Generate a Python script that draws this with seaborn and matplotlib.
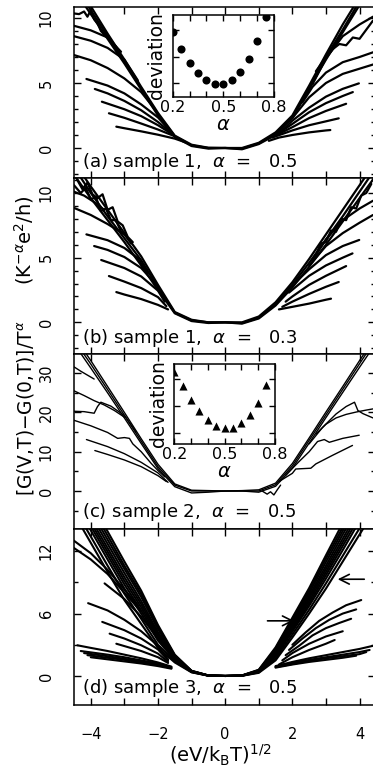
import numpy as np
import pandas as pd
import matplotlib
matplotlib.use('Agg')
import matplotlib.pyplot as plt
import seaborn as sns

sns.set_style('ticks')
plt.rcParams['font.family'] = ['DejaVu Sans']
plt.rcParams['mathtext.fontset'] = 'dejavusans'
plt.rcParams['text.color'] = 'black'
plt.rcParams['axes.labelcolor'] = 'black'
plt.rcParams['axes.edgecolor'] = 'black'
plt.rcParams['xtick.color'] = 'black'
plt.rcParams['ytick.color'] = 'black'

# ---------------- data ----------------
GRID = [-4.5, -4.0, -3.5, -3.0, -2.5, -2.0, -1.5, -1.0, -0.5, 0.0,
        0.5, 1.0, 1.5, 2.0, 2.5, 3.0, 3.5, 4.0, 4.5]

# panel (a): sample 1, alpha = 0.5
a_bundle = [
    [12.6, 10.6, 8.6, 6.6, 4.6, 2.6, 0.9, 0.2, 0.0, 0.0, -0.05, 0.35, 1.1, 2.3, 4.5, 7.0, 9.1, 11.3, 13.4],
    [12.2, 10.3, 8.4, 6.5, 4.5, 2.5, 0.85, 0.15, -0.05, 0.0, -0.1, 0.3, 1.0, 2.4, 4.6, 6.8, 8.9, 11.0, 13.0],
    [12.9, 10.9, 8.8, 6.8, 4.7, 2.7, 0.95, 0.25, 0.02, 0.0, 0.0, 0.4, 1.2, 2.5, 4.8, 7.2, 9.5, 11.6, 13.7],
]
a_branches = [
    ([-4.5, -4.35, -4.2, -4.1, -4.0, -3.9, -3.8, -3.7, -3.55, -3.4, -3.2],
     [10.35, 10.3, 10.5, 10.1, 10.6, 9.9, 9.6, 9.0, 8.6, 8.3, 7.6]),
    ([-3.24, -3.0, -2.5, -2.0, -1.5, -1.2], [1.64, 1.52, 1.28, 1.02, 0.72, 0.45]),
    ([-3.46, -3.0, -2.5, -2.0, -1.5, -1.2], [2.67, 2.32, 1.88, 1.42, 0.9, 0.45]),
    ([-3.67, -3.0, -2.5, -2.0, -1.6], [3.56, 2.98, 2.45, 1.75, 1.1]),
    ([-3.88, -3.5, -3.0, -2.5, -2.0, -1.6], [4.54, 4.2, 3.62, 2.9, 2.0, 1.15]),
    ([-4.13, -3.5, -3.0, -2.5, -2.0, -1.7], [5.31, 4.8, 4.2, 3.35, 2.35, 1.5]),
    ([-4.5, -4.0, -3.5, -3.0, -2.5, -2.1], [7.15, 6.75, 6.15, 5.35, 4.3, 3.0]),
    ([-4.5, -4.0, -3.5, -3.0, -2.6], [8.6, 8.25, 7.7, 6.8, 5.2]),
    ([-4.5, -4.0, -3.5, -3.1], [9.4, 9.05, 8.5, 7.4]),
    ([1.3, 1.6, 2.0, 2.5, 3.0, 3.13], [0.55, 0.8, 1.0, 1.2, 1.35, 1.38]),
    ([1.4, 2.0, 2.5, 3.0, 3.38], [0.8, 1.35, 1.75, 2.05, 2.28]),
    ([1.5, 2.0, 2.5, 3.0, 3.6], [0.95, 1.6, 2.3, 2.85, 3.4]),
    ([1.6, 2.0, 2.5, 3.0, 3.5, 3.8], [1.15, 1.85, 2.75, 3.45, 4.0, 4.3]),
    ([1.7, 2.0, 2.5, 3.0, 3.5, 3.98], [1.35, 2.1, 3.1, 3.95, 4.55, 4.97]),
    ([2.0, 2.5, 3.0, 3.5, 4.0, 4.5], [2.3, 3.9, 5.0, 5.7, 6.1, 6.5]),
    ([2.3, 2.6, 3.0, 3.5, 4.0, 4.5], [3.5, 4.7, 5.8, 6.6, 7.0, 7.45]),
    ([2.7, 3.0, 3.2, 3.4, 3.6, 3.8, 4.0, 4.2, 4.4], [5.9, 7.0, 7.6, 8.0, 7.9, 8.5, 8.4, 9.1, 9.8]),
    ([2.6, 3.0, 3.5, 4.0, 4.4], [4.9, 6.9, 8.6, 9.5, 10.1]),
]

# panel (b): sample 1, alpha = 0.3
b_bundle = [
    [12.0, 10.0, 8.2, 6.5, 4.8, 2.7, 0.75, 0.15, 0.0, 0.0, -0.05, 0.35, 1.4, 2.9, 4.6, 6.4, 8.2, 10.1, 12.0],
    [11.4, 9.6, 7.9, 6.2, 4.4, 2.5, 0.7, 0.1, -0.05, 0.0, -0.1, 0.3, 1.3, 2.7, 4.3, 6.0, 7.8, 9.6, 11.4],
    [12.4, 10.5, 8.7, 6.9, 5.1, 2.9, 0.8, 0.2, 0.0, 0.0, 0.0, 0.45, 1.55, 3.1, 4.9, 6.8, 8.7, 10.6, 12.5],
]
b_branches = [
    ([-4.4, -4.25, -4.1, -3.95, -3.8, -3.65, -3.5, -3.35, -3.2, -3.05, -2.9, -2.75],
     [11.0, 10.3, 10.8, 9.9, 9.6, 9.9, 8.7, 8.9, 7.8, 7.5, 6.6, 6.2]),
    ([-4.5, -4.3, -4.15, -4.0, -3.85, -3.7, -3.55, -3.4, -3.25, -3.1, -2.95],
     [10.6, 10.0, 10.4, 9.5, 9.7, 8.6, 8.8, 7.9, 7.9, 7.0, 6.7]),
    ([2.7, 2.85, 3.0, 3.15, 3.3, 3.45, 3.6, 3.75, 3.9, 4.05, 4.2, 4.35],
     [5.2, 6.1, 6.2, 7.1, 7.0, 8.0, 7.9, 8.9, 8.8, 9.8, 10.0, 10.7]),
    ([-3.24, -3.0, -2.5, -2.0, -1.7], [2.34, 2.15, 1.8, 1.35, 1.0]),
    ([-3.46, -3.0, -2.5, -2.0, -1.75], [3.58, 3.15, 2.65, 1.95, 1.25]),
    ([-3.69, -3.0, -2.5, -2.0, -1.8], [4.82, 4.2, 3.55, 2.45, 1.6]),
    ([-3.9, -3.5, -3.0, -2.5, -2.05], [5.9, 5.6, 5.05, 4.2, 2.9]),
    ([-4.13, -3.5, -3.0, -2.6, -2.3], [6.8, 6.35, 5.75, 4.95, 3.8]),
    ([-4.5, -4.0, -3.5, -3.0, -2.8], [8.85, 8.3, 7.6, 6.8, 6.1]),
    ([-4.5, -4.2, -3.9, -3.6], [10.1, 9.8, 9.3, 8.7]),
    ([1.6, 2.0, 2.5, 3.0, 3.15], [1.0, 1.2, 1.45, 1.75, 1.83]),
    ([1.7, 2.0, 2.5, 3.0, 3.38], [1.2, 1.6, 2.2, 2.75, 3.12]),
    ([1.8, 2.0, 2.5, 3.0, 3.6], [1.6, 2.0, 2.9, 3.6, 4.35]),
    ([1.9, 2.5, 3.0, 3.5, 3.79], [2.3, 3.6, 4.4, 5.0, 5.33]),
    ([2.1, 2.5, 3.0, 3.5, 3.99], [3.1, 4.1, 5.2, 5.9, 6.37]),
    ([2.5, 3.0, 3.5, 4.0, 4.4], [4.4, 5.9, 6.9, 7.7, 8.3]),
    ([2.6, 3.0, 3.5, 4.0, 4.4], [4.8, 6.4, 7.9, 8.8, 9.4]),
]

# panel (c): sample 2, alpha = 0.5
c_bundle = [
    [38.5, 32.3, 25.8, 19.3, 12.7, 6.2, 1.5, 0.0, 0.0, 0.0, 0.0, 0.0, 1.6, 6.4, 12.9, 19.4, 25.9, 32.4, 38.9],
    [37.5, 31.3, 25.0, 18.6, 12.1, 5.7, 1.1, -0.5, -0.3, 0.0, 0.0, -0.3, 1.2, 5.8, 12.2, 18.7, 25.1, 31.5, 37.8],
    [39.5, 33.2, 26.6, 20.0, 13.3, 6.8, 1.8, 0.2, 0.1, 0.0, 0.1, 0.3, 2.0, 7.0, 13.5, 20.1, 26.6, 33.2, 39.6],
]
c_branches = [
    ([-4.13, -3.5, -3.0, -2.5, -2.0, -1.7], [13.1, 11.3, 9.5, 7.3, 4.6, 2.2]),
    ([-3.88, -3.5, -3.0, -2.5, -2.0, -1.75], [10.3, 9.3, 7.9, 6.2, 3.9, 2.4]),
    ([-4.5, -4.0, -3.5, -3.2, -3.0, -2.85, -2.75, -2.5, -2.2, -2.0, -1.8],
     [18.0, 16.6, 14.9, 13.4, 13.6, 13.4, 12.0, 10.0, 7.0, 5.2, 3.6]),
    ([-4.5, -4.2, -3.9, -3.8, -3.7, -3.4, -3.0, -2.65], [20.3, 20.2, 19.8, 21.5, 22.6, 21.6, 19.2, 15.0]),
    ([-4.5, -4.2, -3.9, -3.6, -3.3, -3.0], [25.5, 24.3, 23.0, 21.9, 20.5, 18.8]),
    ([-4.5, -4.3, -4.1, -3.9], [31.6, 30.5, 29.5, 28.5]),
    ([1.1, 1.25, 1.35, 1.45, 1.55, 1.65], [0.0, -0.8, -0.2, -1.0, 0.3, 1.5]),
    ([1.6, 2.0, 2.1, 2.55, 2.7, 3.2, 3.79], [2.4, 4.5, 5.6, 5.8, 6.9, 9.1, 11.6]),
    ([1.8, 2.2, 2.5, 2.75, 2.95, 3.1, 3.5, 3.99], [4.0, 7.5, 10.0, 12.6, 13.1, 12.4, 13.4, 14.2]),
    ([2.5, 2.9, 3.3, 3.6, 3.85, 3.95, 4.1, 4.4], [12.0, 16.2, 19.6, 21.5, 22.6, 20.5, 19.7, 18.6]),
    ([2.7, 3.0, 3.3, 3.6, 3.9, 4.2, 4.4], [14.5, 17.0, 18.6, 19.5, 20.1, 20.6, 20.9]),
]

# panel (d): sample 3, alpha = 0.5
d_bundle = [
    [19.6, 16.7, 13.9, 11.0, 8.2, 4.9, 2.05, 0.5, 0.05, 0.0, 0.05, 0.6, 2.75, 5.6, 8.45, 11.6, 14.7, 17.8, 20.9],
    [19.2, 16.3, 13.5, 10.6, 7.9, 4.7, 1.98, 0.49, 0.05, 0.0, 0.05, 0.57, 2.63, 5.41, 8.2, 11.3, 14.3, 17.4, 20.4],
    [18.8, 15.9, 13.1, 10.3, 7.6, 4.5, 1.9, 0.47, 0.05, 0.0, 0.04, 0.54, 2.5, 5.2, 7.96, 10.96, 13.96, 16.96, 19.96],
    [18.4, 15.5, 12.7, 9.9, 7.2, 4.2, 1.83, 0.46, 0.04, 0.0, 0.04, 0.51, 2.38, 5.03, 7.7, 10.6, 13.6, 16.5, 19.5],
    [18.0, 15.1, 12.3, 9.5, 6.9, 4.0, 1.75, 0.44, 0.04, 0.0, 0.04, 0.48, 2.25, 4.84, 7.47, 10.3, 13.2, 16.1, 19.0],
    [17.6, 14.75, 11.95, 9.15, 6.6, 3.8, 1.68, 0.43, 0.04, 0.0, 0.035, 0.45, 2.13, 4.65, 7.23, 10.0, 12.85, 15.7, 18.55],
    [17.2, 14.4, 11.6, 8.8, 6.3, 3.6, 1.6, 0.41, 0.04, 0.0, 0.03, 0.42, 2.0, 4.46, 6.98, 9.7, 12.5, 15.3, 18.1],
    [16.8, 14.0, 11.2, 8.4, 6.0, 3.4, 1.53, 0.4, 0.04, 0.0, 0.03, 0.39, 1.88, 4.27, 6.74, 9.36, 12.1, 14.9, 17.6],
    [16.2, 13.4, 10.6, 7.9, 5.5, 3.0, 1.41, 0.37, 0.03, 0.0, 0.02, 0.35, 1.69, 3.99, 6.37, 8.9, 11.55, 14.2, 16.9],
    [15.6, 12.8, 10.0, 7.3, 5.0, 2.7, 1.3, 0.35, 0.03, 0.0, 0.02, 0.3, 1.5, 3.7, 6.0, 8.4, 11.0, 13.6, 16.2],
]
d_branches = [
    ([-4.5, -4.0, -3.5, -3.0, -2.6], [13.0, 11.8, 10.2, 8.3, 6.8]),
    ([-4.5, -4.0, -3.5, -3.0, -2.5], [12.3, 11.2, 9.8, 8.0, 6.2]),
    ([-3.59, -3.0, -2.5, -2.0, -1.8], [8.9, 7.4, 5.7, 3.6, 2.7]),
    ([-4.08, -3.5, -3.0, -2.5, -2.0, -1.7], [7.0, 6.3, 5.4, 4.3, 2.9, 1.6]),
    ([-3.66, -3.0, -2.5, -2.0, -1.7], [5.2, 4.4, 3.6, 2.55, 1.5]),
    ([-3.44, -3.0, -2.5, -2.0, -1.7], [4.07, 3.6, 2.95, 2.15, 1.35]),
    ([-3.24, -2.5, -2.0, -1.7], [3.1, 2.4, 1.8, 1.25]),
    ([-4.4, -4.0, -3.5, -3.0, -2.5, -2.0, -1.6], [2.95, 2.7, 2.4, 2.05, 1.7, 1.3, 0.9]),
    ([-4.3, -3.5, -3.0, -2.5, -2.0, -1.6], [2.4, 2.05, 1.8, 1.5, 1.2, 0.85]),
    ([-4.2, -3.5, -3.0, -2.5, -2.0, -1.6], [2.2, 1.9, 1.65, 1.4, 1.1, 0.8]),
    ([-4.1, -3.5, -3.0, -2.5, -2.0, -1.6], [2.0, 1.75, 1.55, 1.3, 1.05, 0.75]),
    ([-4.0, -3.5, -3.0, -2.5, -2.0, -1.6], [1.8, 1.6, 1.4, 1.2, 0.95, 0.7]),
    ([1.6, 2.0, 2.5, 3.0, 3.26], [1.1, 1.8, 2.5, 3.1, 3.46]),
    ([1.7, 2.0, 2.5, 3.0, 3.5], [1.5, 2.2, 3.1, 3.8, 4.3]),
    ([1.8, 2.2, 2.6, 3.0, 3.4, 3.75], [2.0, 2.9, 3.9, 4.6, 5.1, 5.5]),
    ([1.9, 2.3, 2.7, 3.1, 3.5, 3.9], [2.5, 3.6, 4.6, 5.4, 6.0, 6.4]),
    ([2.0, 2.4, 2.8, 3.2, 3.6, 4.05], [3.0, 4.2, 5.3, 6.1, 6.8, 7.3]),
    ([1.5, 2.0, 2.5, 3.0, 3.5, 4.0, 4.4], [0.95, 1.35, 1.7, 2.0, 2.3, 2.6, 2.9]),
    ([1.5, 2.0, 2.5, 3.0, 3.5, 4.0, 4.3], [0.9, 1.25, 1.55, 1.8, 2.05, 2.3, 2.5]),
    ([1.5, 2.0, 2.5, 3.0, 3.5, 4.0, 4.2], [0.85, 1.15, 1.45, 1.7, 1.9, 2.1, 2.3]),
    ([1.5, 2.0, 2.5, 3.0, 3.5, 3.9], [0.8, 1.1, 1.35, 1.55, 1.75, 1.95]),
]
d_arrows = [((1.26, 5.3), (2.05, 5.3)), ((4.14, 9.3), (3.35, 9.3))]

# insets
alpha_vals = [0.2, 0.25, 0.3, 0.35, 0.4, 0.45, 0.5, 0.55, 0.6, 0.65, 0.7, 0.75]
dev_a = [2.91, 2.28, 1.77, 1.40, 1.12, 0.97, 0.97, 1.12, 1.41, 1.91, 2.60, 3.47]
dev_c = [3.27, 2.73, 2.24, 1.81, 1.49, 1.26, 1.17, 1.17, 1.36, 1.67, 2.12, 2.77]

panel_texts = ['(a) sample 1,  $\\alpha$  =   0.5',
               '(b) sample 1,  $\\alpha$  =   0.3',
               '(c) sample 2,  $\\alpha$  =   0.5',
               '(d) sample 3,  $\\alpha$  =   0.5']
panel_ylims = [(-2.31, 10.87), (-2.47, 11.16), (-9.75, 34.8), (-2.79, 14.1)]
panel_yticks = [[0, 5, 10], [0, 5, 10], [0, 10, 20, 30], [0, 6, 12]]
panel_yminor = [1, 1, 5, 3]
panel_lw = [1.6, 1.6, 1.0, 1.5]

# ---------------- figure ----------------
W, H = 373.0, 771.0
fig = plt.figure(figsize=(W / 100, H / 100), dpi=100)


def px_axes(left, top, right, bottom):
    return fig.add_axes([left / W, 1 - bottom / H, (right - left) / W, (bottom - top) / H])


def curves_frame(bundles, branches):
    rows = []
    cid = 0
    for ys in bundles:
        for x, y in zip(GRID, ys):
            rows.append((cid, x, y))
        cid += 1
    for xs, ys in branches:
        for x, y in zip(xs, ys):
            rows.append((cid, x, y))
        cid += 1
    return pd.DataFrame(rows, columns=['curve', 'x', 'y'])


axes_px = [(74, 6.7, 375, 178), (74, 178, 375, 354.3), (74, 354.3, 375, 529.3), (74, 529.3, 375, 705)]
datasets = [(a_bundle, a_branches), (b_bundle, b_branches), (c_bundle, c_branches), (d_bundle, d_branches)]

axes = []
for i, (box, (bund, bran)) in enumerate(zip(axes_px, datasets)):
    ax = px_axes(*box)
    df = curves_frame(bund, bran)
    sns.lineplot(data=df, x='x', y='y', units='curve', estimator=None, sort=False,
                 color='black', linewidth=panel_lw[i], ax=ax, legend=False)
    ax.set_xlim(-4.5, 4.46)
    ax.set_ylim(*panel_ylims[i])
    ax.set_xticks([-4, -2, 0, 2, 4])
    ax.set_xticks([-3, -1, 1, 3], minor=True)
    ax.set_yticks(panel_yticks[i])
    ym = panel_yminor[i]
    lo, hi = panel_ylims[i]
    ax.set_yticks([v for v in np.arange(np.ceil(lo / ym) * ym, hi, ym) if v not in panel_yticks[i]], minor=True)
    ax.tick_params(which='both', direction='in', top=True, right=True, width=1.0, colors='black')
    ax.tick_params(which='major', length=5)
    ax.tick_params(axis='x', which='minor', length=5)
    ax.tick_params(axis='y', which='minor', length=3)
    ax.tick_params(axis='y', labelrotation=90, labelsize=10.5, pad=14.5)
    ax.tick_params(axis='x', labelsize=10.5, pad=16)
    for lab in ax.get_yticklabels():
        lab.set_va('center')
    if i < 3:
        ax.tick_params(axis='x', labelbottom=False)
    ax.set_xlabel('')
    ax.set_ylabel('')
    for sp in ax.spines.values():
        sp.set_linewidth(1.1)
        sp.set_color('black')
    ax.text(0.027, [0.094, 0.091, 0.10, 0.095][i], panel_texts[i], transform=ax.transAxes,
            fontsize=13, ha='left', va='center', color='black')
    axes.append(ax)

ax_d = axes[3]
ax_d.set_xlabel(r'(eV/k$_\mathrm{B}$T)$^{1/2}$', fontsize=14, color='black')
ax_d.xaxis.set_label_coords(0.5 - 4 / 301, -0.215)
for start, end in d_arrows:
    ax_d.annotate('', xy=end, xytext=start,
                  arrowprops=dict(arrowstyle='->,head_length=0.7,head_width=0.35', lw=1.2, color='black',
                                  shrinkA=0, shrinkB=0))

# insets


def make_inset(box, yvals, marker, ylim):
    ins = px_axes(*box)
    ins.set_facecolor('white')
    sns.scatterplot(x=alpha_vals, y=yvals, ax=ins, color='black', marker=marker, s=34,
                    linewidth=0, legend=False)
    ins.set_xlim(0.2, 0.8)
    ins.set_ylim(*ylim)
    ins.set_xticks([0.2, 0.5, 0.8])
    ins.set_xticks([0.3, 0.4, 0.6, 0.7], minor=True)
    ins.set_yticks([1, 2, 3])
    ins.set_yticklabels([])
    ins.tick_params(which='both', direction='in', top=True, right=True, width=1.0, colors='black')
    ins.tick_params(which='major', length=4)
    ins.tick_params(which='minor', length=4)
    ins.tick_params(axis='x', labelsize=11.5, pad=2.5)
    ins.set_ylabel('deviation', fontsize=13.5, labelpad=1, color='black')
    ins.set_xlabel(r'$\alpha$', fontsize=14, labelpad=0, color='black')
    for sp in ins.spines.values():
        sp.set_linewidth(1.1)
        sp.set_color('black')
    return ins


make_inset((172.7, 15, 274, 96.7), dev_a, 'o', (0.5, 3.56))
make_inset((174.3, 363.7, 274.7, 443.7), dev_c, '^', (0.59, 3.58))

# y label in two parts
fig.text(26 / W, 1 - 408 / H, r'[G(V,T)$-$G(0,T)]/T$^{\alpha}$', rotation=90,
         ha='center', va='center', fontsize=13.4, color='black')
fig.text(24 / W, 1 - 240 / H, r'(K$^{-\alpha}$e$^{2}$/h)', rotation=90,
         ha='center', va='center', fontsize=14, color='black')

fig.savefig('out.png', dpi=100)
